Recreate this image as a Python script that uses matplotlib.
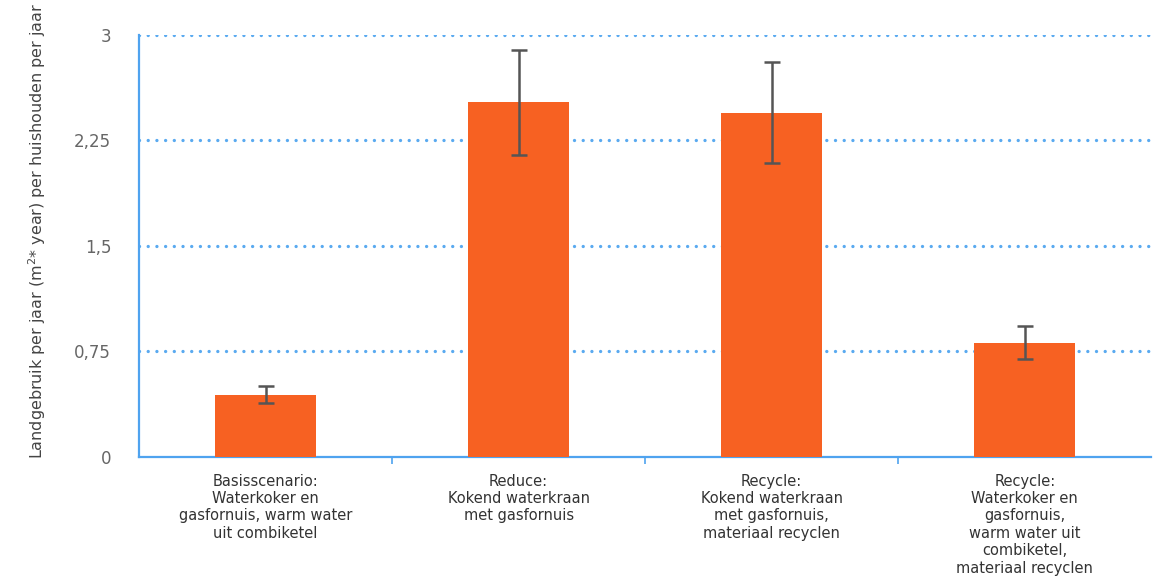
import matplotlib.pyplot as plt
import numpy as np

# scenario labels and values
labels = ["Basisscenario:\nWaterkoker en\ngasfornuis, warm water\nuit combiketel",
          "Reduce:\nKokend waterkraan\nmet gasfornuis",
          "Recycle:\nKokend waterkraan\nmet gasfornuis,\nmateriaal recyclen",
          "Recycle:\nWaterkoker en\ngasfornuis,\nwarm water uit\ncombiketel,\nmateriaal recyclen"]
values = [0.44, 2.52, 2.445, 0.81]
err_low = [0.385, 2.145, 2.09, 0.70]
err_high = [0.505, 2.895, 2.81, 0.93]
yticks = [0, 0.75, 1.5, 2.25, 3]
yticklabels = ["0", "0,75", "1,5", "2,25", "3"]

blue = '#4fa3ef'
orange = '#f76122'

fig = plt.figure(figsize=(11.63, 5.87), dpi=100)
ax = fig.add_axes([0.1195, 0.2215, 0.8705, 0.719])

x = np.arange(len(values))
yerr = [np.array(values) - np.array(err_low), np.array(err_high) - np.array(values)]
ax.bar(x, values, width=0.4, color=orange, zorder=3)
ax.errorbar(x, values, yerr=yerr, fmt='none', ecolor='#555555', elinewidth=1.8,
            capsize=5.5, capthick=1.8, zorder=4)

ax.set_xlim(-0.5, 3.5)
ax.set_ylim(0, 3)
ax.set_yticks(yticks)
ax.set_yticklabels(yticklabels, color='#666666', fontsize=12)
ax.tick_params(axis='y', length=0, pad=20)

# ticks between categories, labels centred under bars
ax.set_xticks([0.5, 1.5, 2.5])
ax.set_xticklabels([])
ax.set_xticks(x, minor=True)
ax.set_xticklabels(labels, minor=True, fontsize=10.5, color='#333333')
ax.tick_params(axis='x', which='major', length=5, color=blue, width=1.2)
ax.tick_params(axis='x', which='minor', length=0, pad=12)

for t in yticks[1:]:
    ax.axhline(t, color='#5aaaf0', linestyle=(0, (0.01, 2.6)), linewidth=2.4,
               dash_capstyle='round', zorder=1)

for s in ['top', 'right']:
    ax.spines[s].set_visible(False)
for s in ['left', 'bottom']:
    ax.spines[s].set_color(blue)
    ax.spines[s].set_linewidth(1.6)

ax.set_ylabel("Landgebruik per jaar (m$^2$* year) per huishouden per jaar",
              fontsize=11.5, color='#444444')
ax.yaxis.set_label_coords(-0.09, 0.535)

fig.savefig('out.png', dpi=100)
